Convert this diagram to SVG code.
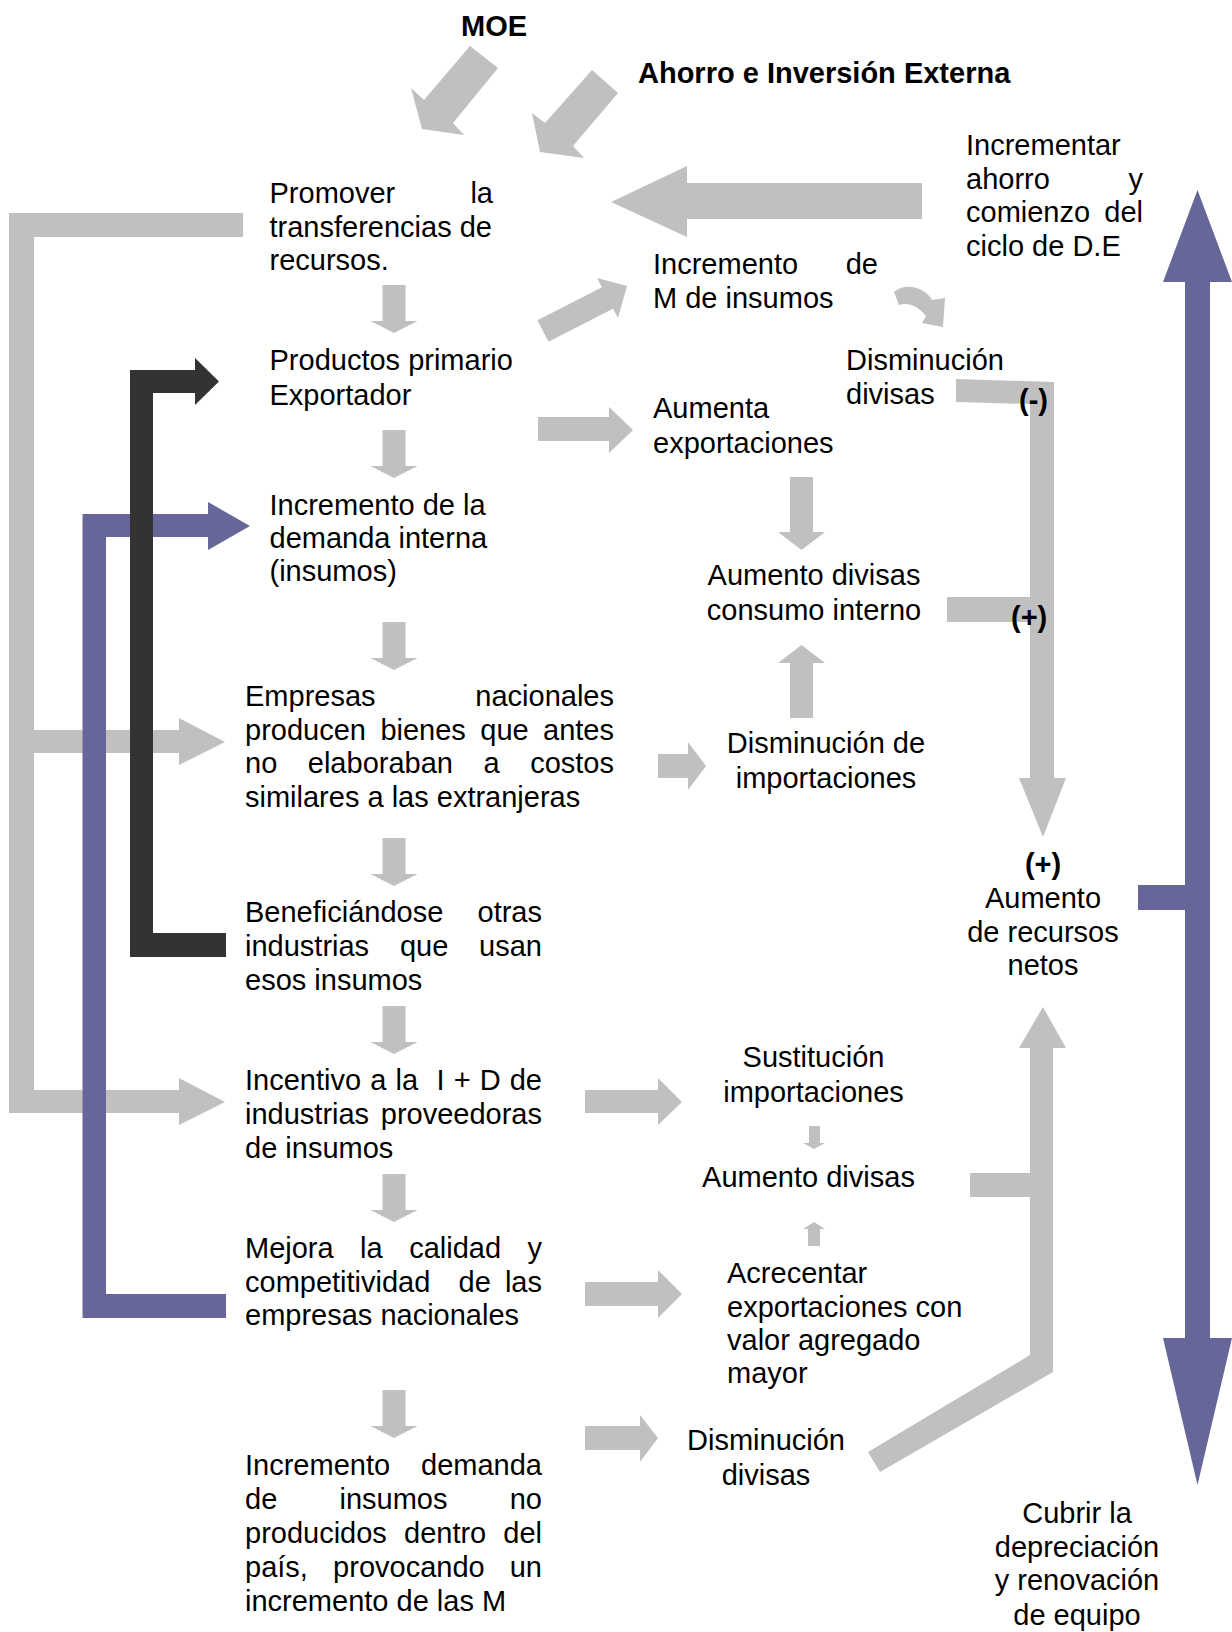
<svg xmlns="http://www.w3.org/2000/svg" width="1232" height="1632" viewBox="0 0 1232 1632">
<style>
.t{font-family:"Liberation Sans",Arial,sans-serif;font-size:29px;fill:#000}
.b{font-weight:bold}
.m{text-anchor:middle}
.e{text-anchor:end}
.g{fill:#C0C0C0}
.p{fill:#666699}
.d{fill:#333333}
</style>
<defs>
<path id="dn" d="M-11.5,0 h23 v36 h12 l-23.5,12 l-23.5,-12 h12 z"/>
</defs>
<rect width="1232" height="1632" fill="#fff"/>
<g id="connectors">
<polygon class="g" points="243,213 9,213 9,1113 179,1113 179,1125 225,1102 179,1078 179,1090 34,1090 34,753 179,753 179,765 225,742 179,718 179,730 34,730 34,237 243,237"/>
<polygon class="p" points="82.5,514 208,514 208,502 250,526 208,550 208,537 106,537 106,1294 226,1294 226,1318 82.5,1318"/>
<polygon class="d" points="130,370 195,370 195,358 219,381.5 195,405 195,393 153,393 153,933 226,933 226,957 130,957"/>
<polygon class="p" points="1197.5,190 1232,282 1210,282 1210,1338 1232,1338 1197.5,1485 1163,1338 1185,1338 1185,910 1138,910 1138,885 1185,885 1185,282 1163,282"/>
<polygon class="g" points="470,46 498,68 453,123 464,135 422,129 411,88 424,100"/>
<polygon class="g" points="592,70 618,93 573,146 584,158 540,152 532,113 545,123"/>
<polygon class="g" points="922,183 687,183 687,166 611,202 687,237 687,219 922,219"/>
<polygon class="g" points="537.5,320.3 602,287.3 597,278 627,286 618,318 613,308.7 548.5,341.7"/>
<path class="g" d="M894,292 C905,282 925,287 932,300 L945,298 L943,327 L922,323 L926,316 C918,306 908,302 899,305 Z"/>
<polygon class="g" points="956,379 1054,382 1054,778 1066,778 1043,837 1019,778 1030,778 1030,622 947,622 947,597 1030,597 1030,404 956,402"/>
<polygon class="g" points="1043,1007 1066,1048 1053,1048 1053,1372 880,1472 868,1452 1030,1355 1030,1197 970,1197 970,1173 1030,1173 1030,1048 1019,1048"/>
<polygon class="g" points="538,417 609,417 609,407 633,430 609,453 609,441 538,441"/>
<polygon class="g" points="658,754 688,754 688,742 706,766 688,790 688,778 658,778"/>
<polygon class="g" points="585,1090 658,1090 658,1078 682,1102 658,1125 658,1113 585,1113"/>
<polygon class="g" points="585,1282 658,1282 658,1270 682,1294 658,1318 658,1306 585,1306"/>
<polygon class="g" points="585,1426 640,1426 640,1415 658,1438 640,1462 640,1450 585,1450"/>
<polygon class="g" points="790,477 813,477 813,532 825,532 801.5,550 778,532 790,532"/>
<polygon class="g" points="790,718 813,718 813,663 825,663 801.5,645 778,663 790,663"/>
<polygon class="g" points="809,1126 820,1126 820,1143 825,1143 814,1149 803,1143 809,1143"/>
<polygon class="g" points="808,1246 820,1246 820,1229 825,1229 814,1222 803,1229 808,1229"/>
<use href="#dn" class="g" x="394" y="285"/>
<use href="#dn" class="g" x="394" y="430"/>
<use href="#dn" class="g" x="394" y="622"/>
<use href="#dn" class="g" x="394" y="838"/>
<use href="#dn" class="g" x="394" y="1006"/>
<use href="#dn" class="g" x="394" y="1174"/>
<use href="#dn" class="g" x="394" y="1390"/>
</g>
<g id="moe"><text class="t b m" x="494" y="36">MOE</text></g>
<g id="ahorro"><text class="t b" x="638" y="83">Ahorro e Inversión Externa</text></g>
<g id="incrementar">
<text class="t" x="966" y="155">Incrementar</text>
<text class="t" x="966" y="189">ahorro</text><text class="t e" x="1143" y="189">y</text>
<text class="t" x="966" y="222">comienzo</text><text class="t e" x="1143" y="222">del</text>
<text class="t" x="966" y="256">ciclo de D.E</text>
</g>
<g id="promover">
<text class="t" x="269.5" y="203">Promover</text><text class="t e" x="493" y="203">la</text>
<text class="t" x="269.5" y="237">transferencias de</text>
<text class="t" x="269.5" y="270">recursos.</text>
</g>
<g id="incremento-m">
<text class="t" x="653" y="274">Incremento</text><text class="t e" x="878" y="274">de</text>
<text class="t" x="653" y="308">M de insumos</text>
</g>
<g id="productos">
<text class="t" x="269.5" y="370">Productos primario</text>
<text class="t" x="269.5" y="405">Exportador</text>
</g>
<g id="disminucion-divisas-1">
<text class="t" x="846" y="370">Disminución</text>
<text class="t" x="846" y="404">divisas</text>
<text class="t b" x="1019" y="410">(-)</text>
</g>
<g id="aumenta-exportaciones">
<text class="t" x="653" y="418">Aumenta</text>
<text class="t" x="653" y="453">exportaciones</text>
</g>
<g id="incremento-demanda-interna">
<text class="t" x="269.5" y="515">Incremento de la</text>
<text class="t" x="269.5" y="548">demanda interna</text>
<text class="t" x="269.5" y="581">(insumos)</text>
</g>
<g id="aumento-divisas-consumo">
<text class="t m" x="814" y="585">Aumento divisas</text>
<text class="t m" x="814" y="620">consumo interno</text>
<text class="t b" x="1011" y="627">(+)</text>
</g>
<g id="empresas">
<text class="t" x="245" y="706">Empresas</text><text class="t e" x="614" y="706">nacionales</text>
<text class="t" y="740"><tspan x="245">producen</tspan><tspan x="380.4">bienes</tspan><tspan x="480.3">que</tspan></text><text class="t e" x="614" y="740">antes</text>
<text class="t" y="773"><tspan x="245">no</tspan><tspan x="307.8">elaboraban</tspan><tspan x="483.5">a</tspan></text><text class="t e" x="614" y="773">costos</text>
<text class="t" x="245" y="807">similares a las extranjeras</text>
</g>
<g id="disminucion-importaciones">
<text class="t m" x="826" y="753">Disminución de</text>
<text class="t m" x="826" y="788">importaciones</text>
</g>
<g id="aumento-recursos-netos">
<text class="t b m" x="1043" y="874">(+)</text>
<text class="t m" x="1043" y="908">Aumento</text>
<text class="t m" x="1043" y="942">de recursos</text>
<text class="t m" x="1043" y="975">netos</text>
</g>
<g id="beneficiandose">
<text class="t" x="245" y="922">Beneficiándose</text><text class="t e" x="542" y="922">otras</text>
<text class="t" y="956"><tspan x="245">industrias</tspan><tspan x="399.9">que</tspan></text><text class="t e" x="542" y="956">usan</text>
<text class="t" x="245" y="990">esos insumos</text>
</g>
<g id="incentivo">
<text class="t" y="1090"><tspan x="245">Incentivo</tspan><tspan x="370.3">a</tspan><tspan x="395.5">la</tspan><tspan x="436.4">I</tspan><tspan x="453.7">+</tspan><tspan x="479.7">D</tspan></text><text class="t e" x="542" y="1090">de</text>
<text class="t" x="245" y="1124">industrias</text><text class="t e" x="542" y="1124">proveedoras</text>
<text class="t" x="245" y="1158">de insumos</text>
</g>
<g id="sustitucion">
<text class="t m" x="813.5" y="1067">Sustitución</text>
<text class="t m" x="813.5" y="1102">importaciones</text>
</g>
<g id="aumento-divisas">
<text class="t m" x="808.5" y="1187">Aumento divisas</text>
</g>
<g id="mejora">
<text class="t" y="1258"><tspan x="245">Mejora</tspan><tspan x="360.1">la</tspan><tspan x="409.2">calidad</tspan></text><text class="t e" x="542" y="1258">y</text>
<text class="t" y="1292"><tspan x="245">competitividad</tspan><tspan x="458.6">de</tspan></text><text class="t e" x="542" y="1292">las</text>
<text class="t" x="245" y="1325">empresas nacionales</text>
</g>
<g id="acrecentar">
<text class="t" x="727" y="1283">Acrecentar</text>
<text class="t" x="727" y="1317">exportaciones con</text>
<text class="t" x="727" y="1350">valor agregado</text>
<text class="t" x="727" y="1383">mayor</text>
</g>
<g id="disminucion-divisas-2">
<text class="t m" x="766" y="1450">Disminución</text>
<text class="t m" x="766" y="1485">divisas</text>
</g>
<g id="incremento-demanda-insumos">
<text class="t" x="245" y="1475">Incremento</text><text class="t e" x="542" y="1475">demanda</text>
<text class="t" y="1509"><tspan x="245">de</tspan><tspan x="339.5">insumos</tspan></text><text class="t e" x="542" y="1509">no</text>
<text class="t" y="1543"><tspan x="245">producidos</tspan><tspan x="404">dentro</tspan></text><text class="t e" x="542" y="1543">del</text>
<text class="t" y="1577"><tspan x="245">país,</tspan><tspan x="333.1">provocando</tspan></text><text class="t e" x="542" y="1577">un</text>
<text class="t" x="245" y="1611">incremento de las M</text>
</g>
<g id="cubrir">
<text class="t m" x="1077" y="1523">Cubrir la</text>
<text class="t m" x="1077" y="1557">depreciación</text>
<text class="t m" x="1077" y="1590">y renovación</text>
<text class="t m" x="1077" y="1625">de equipo</text>
</g>
</svg>
